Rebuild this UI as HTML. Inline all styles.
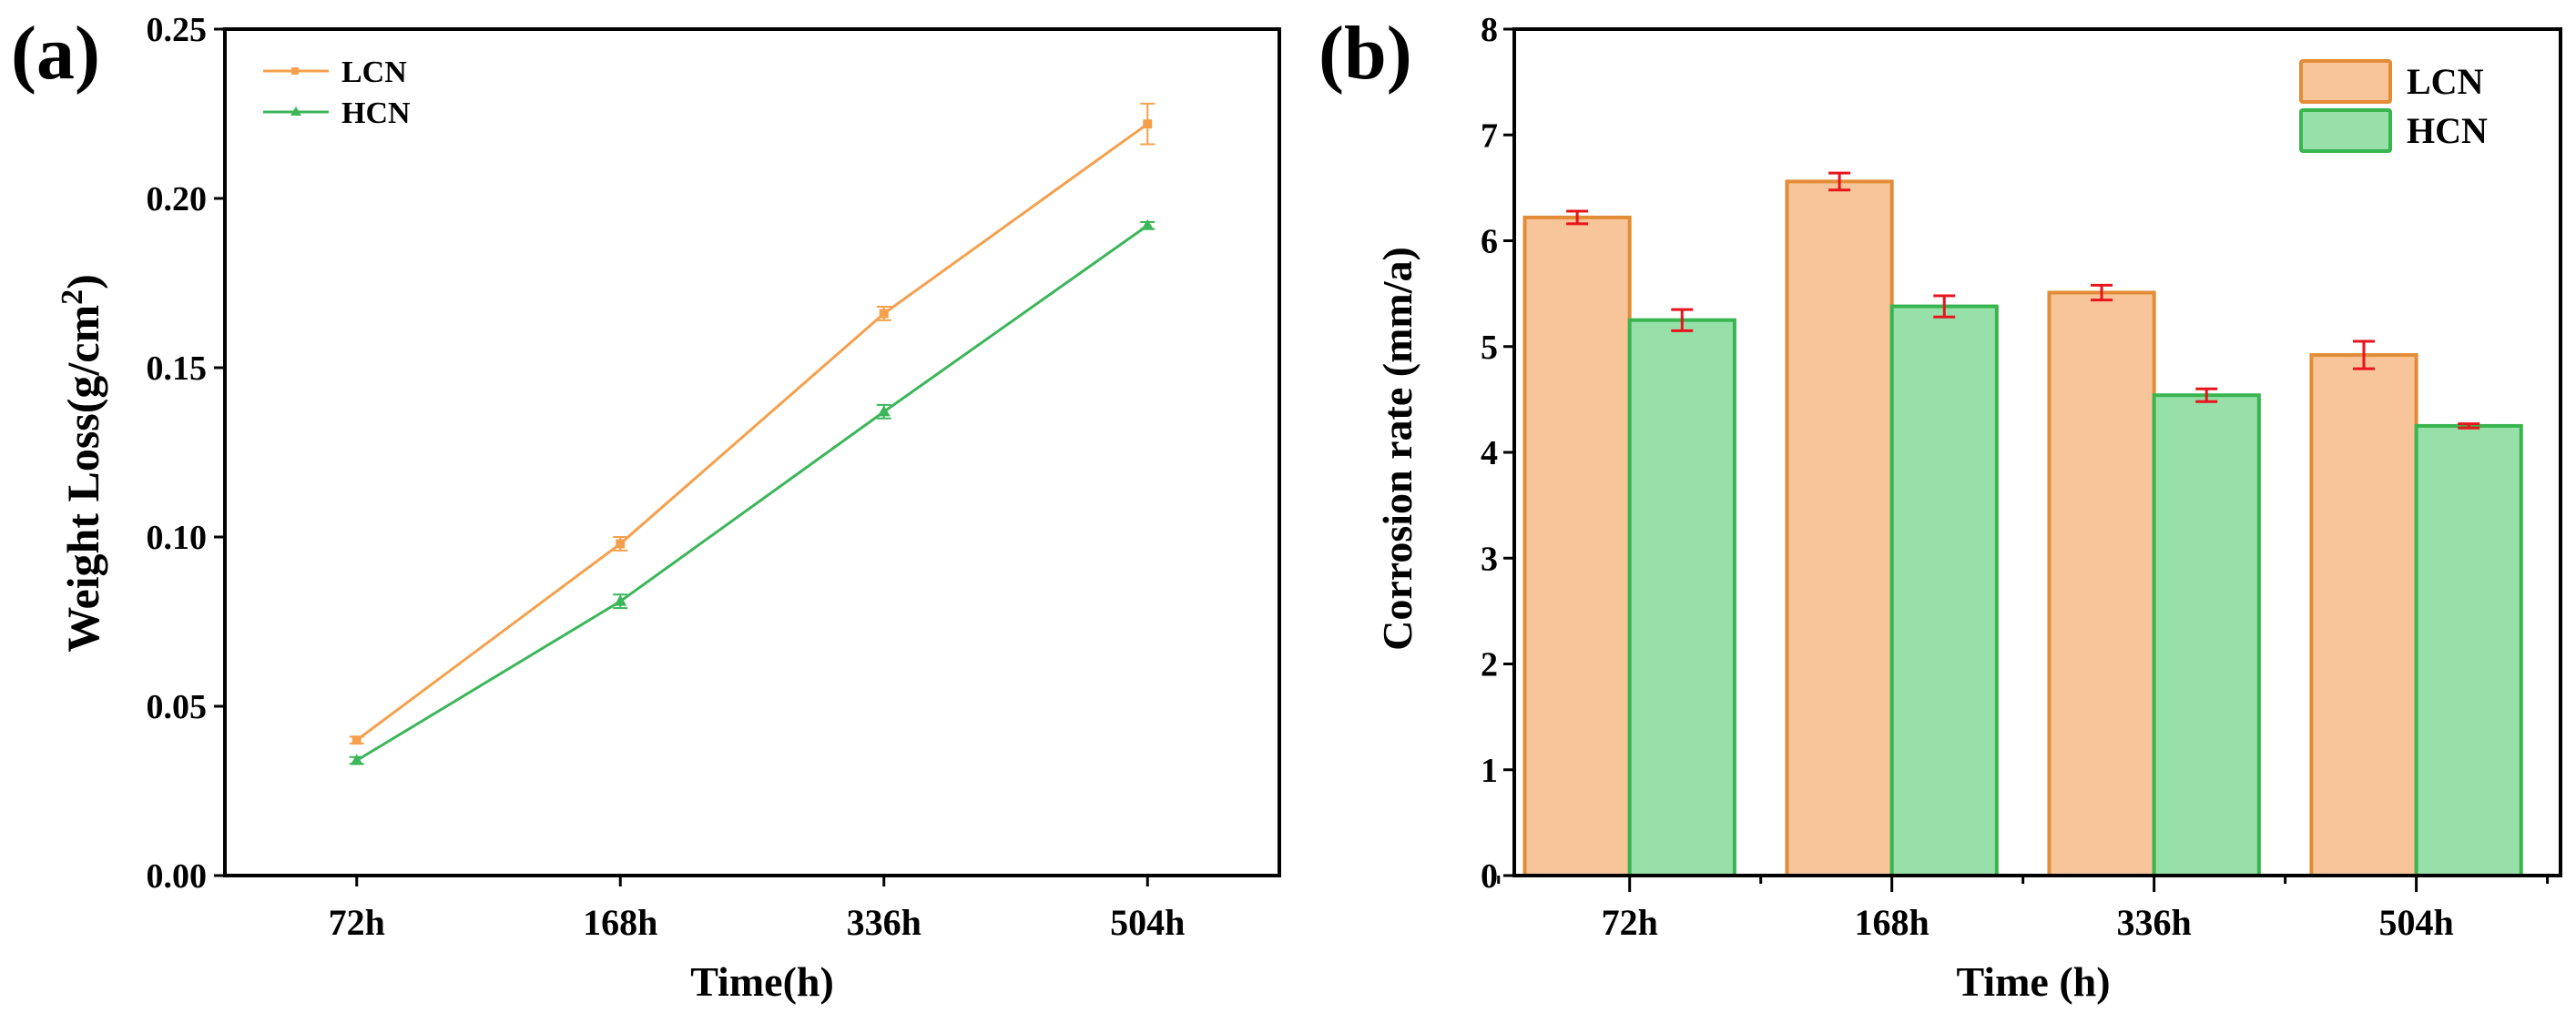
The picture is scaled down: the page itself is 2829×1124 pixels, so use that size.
<!DOCTYPE html>
<html><head><meta charset="utf-8"><style>
html,body{margin:0;padding:0;background:#fff;}
svg{display:block;font-family:"Liberation Serif",serif;font-weight:bold;}
</style></head><body>
<svg id="fig" width="2829" height="1124" viewBox="0 0 2829 1124" xmlns="http://www.w3.org/2000/svg"></svg>
<script>
const categories = ["72h","168h","336h","504h"];
const lcnWeight = [0.040, 0.098, 0.166, 0.222];
const lcnWeightErr = [0.001, 0.002, 0.002, 0.006];
const hcnWeight = [0.034, 0.081, 0.137, 0.192];
const hcnWeightErr = [0.001, 0.002, 0.002, 0.001];
const weightTicks = ["0.00","0.05","0.10","0.15","0.20","0.25"];
const lcnRate = [6.22, 6.56, 5.51, 4.92];
const lcnRateErr = [0.06, 0.08, 0.07, 0.13];
const hcnRate = [5.25, 5.38, 4.54, 4.25];
const hcnRateErr = [0.1, 0.1, 0.06, 0.02];
const rateTicks = ["0","1","2","3","4","5","6","7","8"];

const NS = "http://www.w3.org/2000/svg";
const svg = document.getElementById("fig");
function el(tag, attrs, parent, text){
  const e = document.createElementNS(NS, tag);
  for (const k in attrs) e.setAttribute(k, attrs[k]);
  if (text !== undefined) e.textContent = text;
  (parent || svg).appendChild(e);
  return e;
}

// ---------- Panel A ----------
const A = {l:247, r:1405, t:32, b:962};
const xa = i => A.l + (i + 0.5) * (A.r - A.l) / 4;
const ya = v => A.b - v / 0.25 * (A.b - A.t);
const gA = el("g", {});  
const fa = el("rect", {x:A.l, y:A.t, width:A.r-A.l, height:A.b-A.t, fill:"none", stroke:"#000", "stroke-width":4}, gA);
 
weightTicks.forEach((t) => {
  const y = ya(parseFloat(t));
  const tk = el("line", {x1:A.l-12, x2:A.l, y1:y, y2:y, stroke:"#000", "stroke-width":3}, gA);
   
  const lb = el("text", {x:A.l-20, y:y+13, "text-anchor":"end", "font-size":38}, gA, t);
   
});
categories.forEach((c, i) => {
  const x = xa(i);
  const tk = el("line", {x1:x, x2:x, y1:A.b, y2:A.b+12, stroke:"#000", "stroke-width":3}, gA);
   
  const lb = el("text", {x:x, y:1027, "text-anchor":"middle", "font-size":40}, gA, c);
   
});
function series(vals, errs, color, name, marker){
  const pts = vals.map((v,i)=>xa(i)+","+ya(v)).join(" ");
  const pl = el("polyline", {points:pts, fill:"none", stroke:color, "stroke-width":3}, gA);
   
  vals.forEach((v,i)=>{
    const x = xa(i), y1 = ya(v+errs[i]), y2 = ya(v-errs[i]);
    const eb = el("path", {d:`M${x} ${y1}V${y2}M${x-8} ${y1}H${x+8}M${x-8} ${y2}H${x+8}`, stroke:color, "stroke-width":2, fill:"none"}, gA);
     
    let m;
    if (marker === "sq") m = el("rect", {x:x-5, y:ya(v)-5, width:10, height:10, fill:color}, gA);
    else m = el("polygon", {points:`${x},${ya(v)-7} ${x-7},${ya(v)+5} ${x+7},${ya(v)+5}`, fill:color}, gA);
     
  });
}
series(lcnWeight, lcnWeightErr, "#f5a04c", "lcn", "sq");
series(hcnWeight, hcnWeightErr, "#3cb65a", "hcn", "tri");
[["LCN","#f5a04c",78,"sq"],["HCN","#3cb65a",123,"tri"]].forEach(([n,c,y,m])=>{
  const g = el("g", {}, gA);  
  el("line", {x1:289, x2:361, y1:y, y2:y, stroke:c, "stroke-width":3}, g);
  if (m==="sq") el("rect", {x:320, y:y-4, width:8, height:8, fill:c}, g);
  else el("polygon", {points:`325,${y-6} 319,${y+4} 331,${y+4}`, fill:c}, g);
  el("text", {x:375, y:y+12, "font-size":34}, g, n);
});
const yta = el("text", {transform:"translate(108,509) rotate(-90)", "text-anchor":"middle", "font-size":50}, gA);
 
yta.appendChild(document.createTextNode("Weight Loss(g/cm"));
el("tspan", {dy:-18, "font-size":34}, yta, "2");
el("tspan", {dy:18}, yta, ")");
const xta = el("text", {x:837, y:1094, "text-anchor":"middle", "font-size":46}, gA, "Time(h)");
 
const la = el("text", {x:12, y:86, "font-size":84}, gA, "(a)");
 

// ---------- Panel B ----------
const B = {l:1663, r:2812, t:32, b:962};
const xLo = 0.56, xHi = 4.55;
const xb = v => B.l + (v - xLo) / (xHi - xLo) * (B.r - B.l);
const yb = v => B.b - v / 8 * (B.b - B.t);
const gB = el("g", {});  
const barW = 0.4;
function bars(vals, errs, off, fill, stroke, name){
  vals.forEach((v,i)=>{
    const x0 = xb(i + 1 + off), x1 = xb(i + 1 + off + barW);
    const r = el("rect", {x:x0, y:yb(v), width:x1-x0, height:B.b-yb(v), fill:fill, stroke:stroke, "stroke-width":4}, gB);
     
    const cx = (x0+x1)/2, y1 = yb(v+errs[i]), y2 = yb(v-errs[i]);
    const eb = el("path", {d:`M${cx} ${y1}V${y2}M${cx-12} ${y1}H${cx+12}M${cx-12} ${y2}H${cx+12}`, stroke:"#e8141c", "stroke-width":3, fill:"none"}, gB);
     
  });
}
bars(lcnRate, lcnRateErr, -0.4, "#f8c59a", "#e38c38", "lcn");
bars(hcnRate, hcnRateErr, 0, "#98e0aa", "#38b54e", "hcn");
const fb = el("rect", {x:B.l, y:B.t, width:B.r-B.l, height:B.b-B.t, fill:"none", stroke:"#000", "stroke-width":4}, gB);
 
rateTicks.forEach((t) => {
  const y = yb(parseFloat(t));
  const tk = el("line", {x1:B.l-12, x2:B.l, y1:y, y2:y, stroke:"#000", "stroke-width":3}, gB);
   
  const lb = el("text", {x:B.l-18, y:y+13, "text-anchor":"end", "font-size":38}, gB, t);
   
});
categories.forEach((c, i) => {
  const x = xb(i+1);
  const tk = el("line", {x1:x, x2:x, y1:B.b, y2:B.b+18, stroke:"#000", "stroke-width":3}, gB);
   
  const xm = xb(i+0.5);
  const mt = el("line", {x1:xm, x2:xm, y1:B.b, y2:B.b+9, stroke:"#000", "stroke-width":3}, gB);
   
  const lb = el("text", {x:x, y:1027, "text-anchor":"middle", "font-size":40}, gB, c);
   
});
{ const xm = xb(4.5); const mt = el("line", {x1:xm, x2:xm, y1:B.b, y2:B.b+9, stroke:"#000", "stroke-width":3}, gB);
    }
[["LCN","#f8c59a","#e38c38",67],["HCN","#98e0aa","#38b54e",121]].forEach(([n,f,s,y])=>{
  const g = el("g", {}, gB);  
  el("rect", {x:2527, y:y, width:98, height:45, fill:f, stroke:s, "stroke-width":4, rx:2}, g);
  el("text", {x:2643, y:y+36, "font-size":40}, g, n);
});
const ytb = el("text", {transform:"translate(1550,493) rotate(-90)", "text-anchor":"middle", "font-size":46}, gB, "Corrosion rate (mm/a)");
 
const xtb = el("text", {x:2233, y:1094, "text-anchor":"middle", "font-size":46}, gB, "Time (h)");
 
const lbb = el("text", {x:1448, y:86, "font-size":84}, gB, "(b)");
 
</script>
</body></html>
